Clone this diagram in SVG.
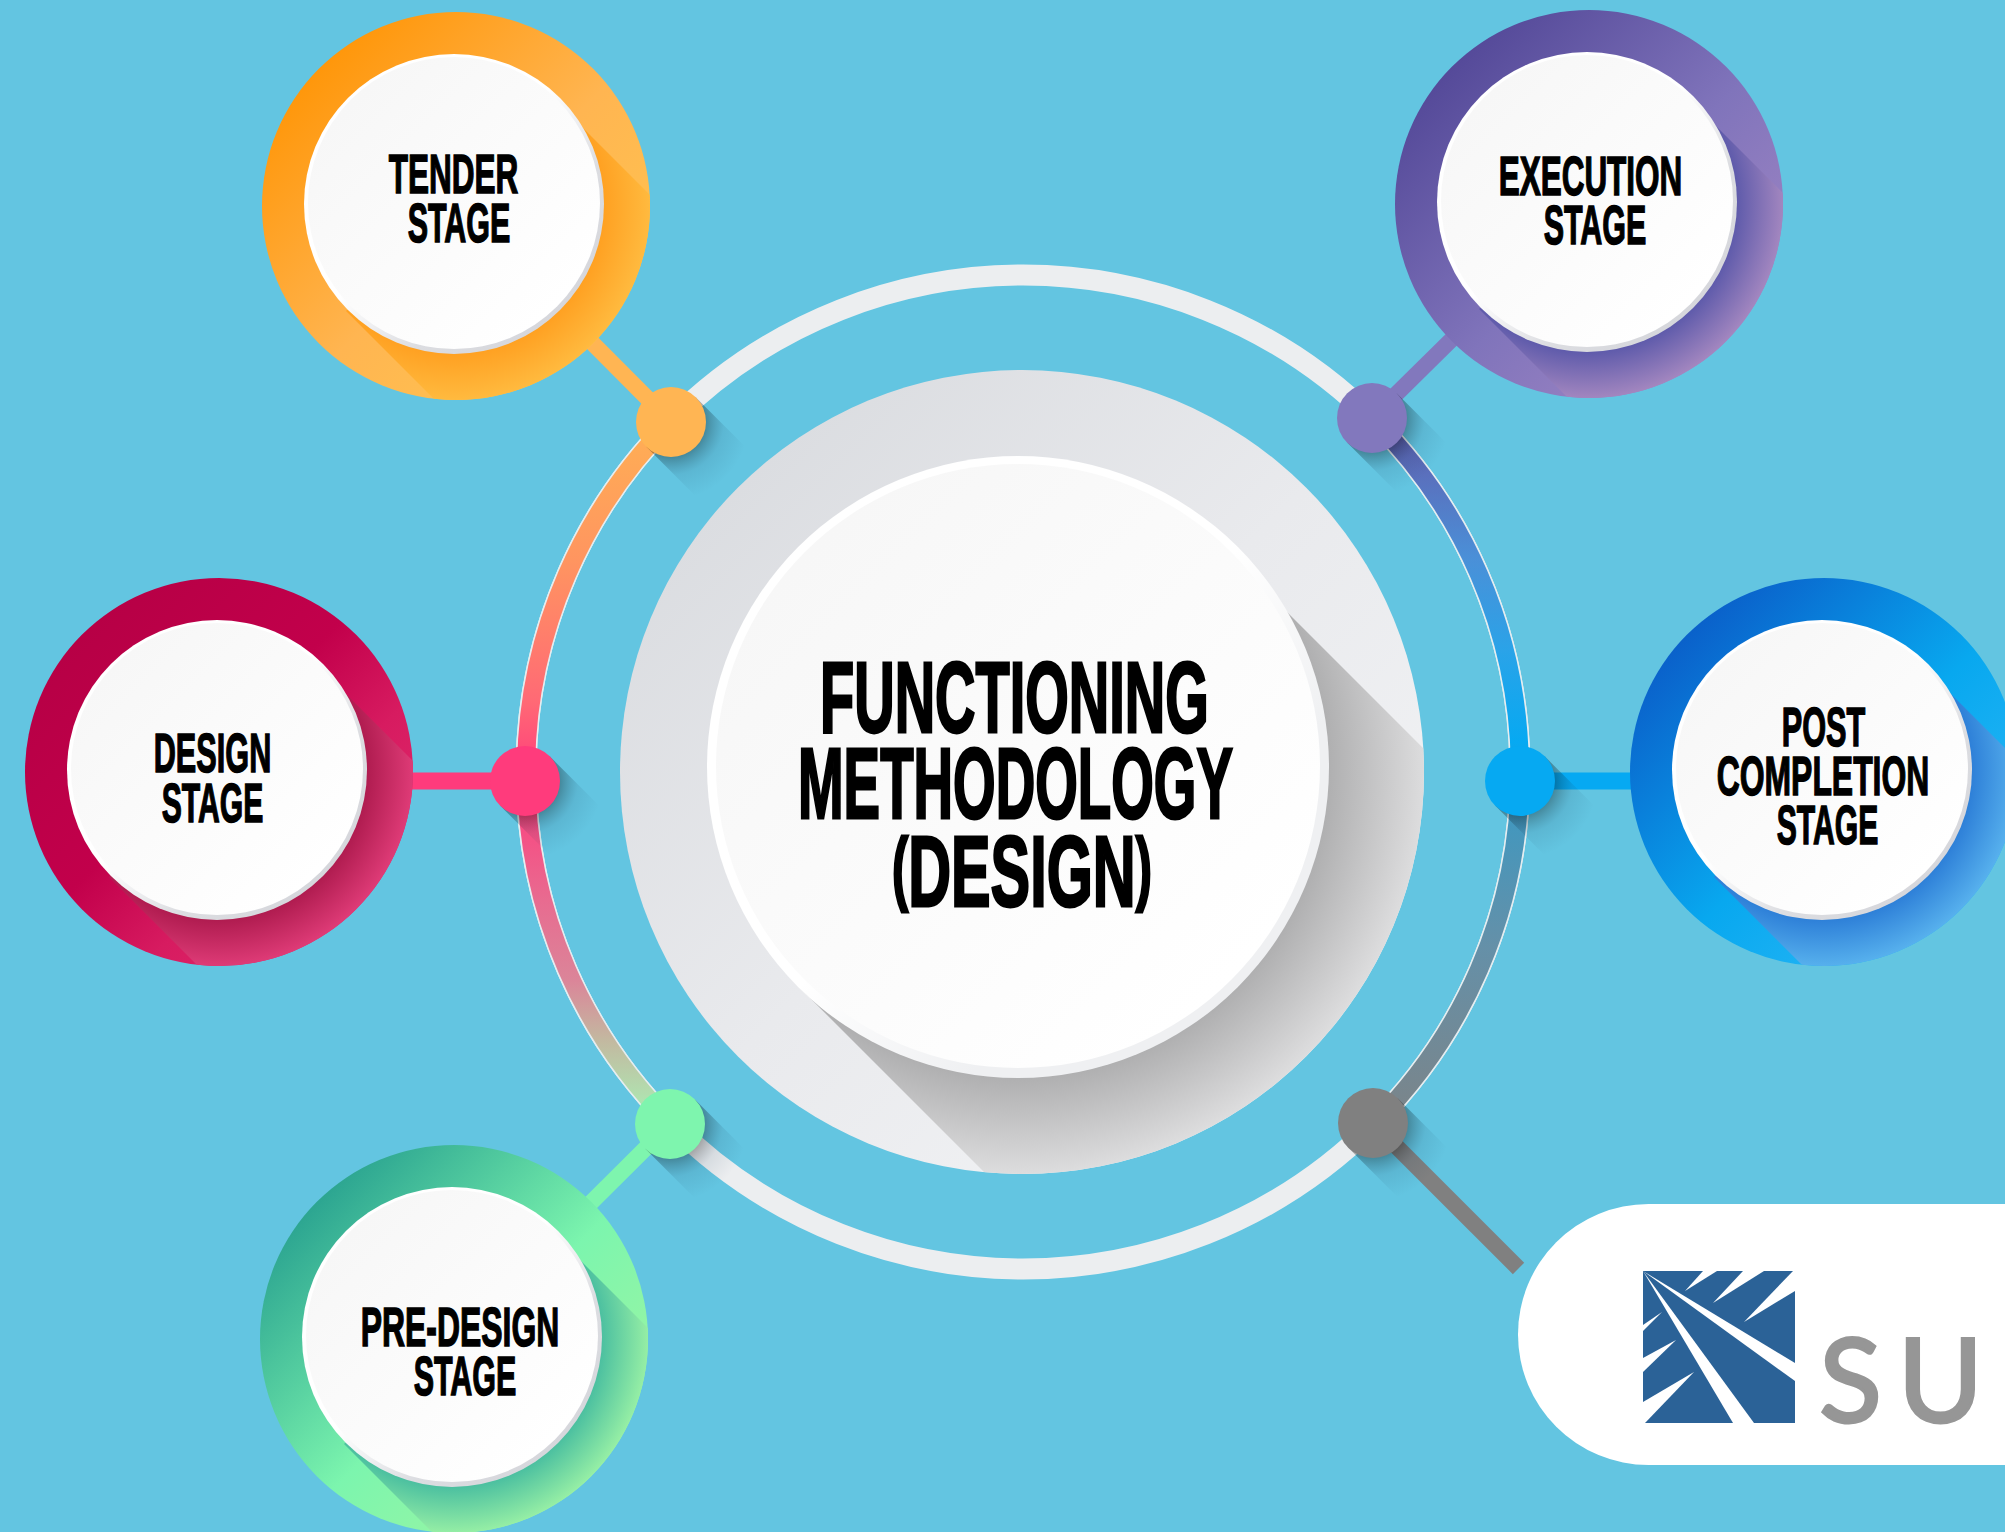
<svg xmlns="http://www.w3.org/2000/svg" xmlns:xlink="http://www.w3.org/1999/xlink" width="2005" height="1532" viewBox="0 0 2005 1532">
<style>
.lbl{font-family:"Liberation Sans Narrow","Liberation Sans",Arial,sans-serif;font-weight:700;font-size:56px;fill:#000;stroke:#000;stroke-width:1.5px;stroke-linejoin:miter}
.main{font-size:100px;stroke-width:2.8px}
.edge{fill:none;stroke:#e4edf0;stroke-width:21}
.band{fill:none;stroke-width:18}
.conn{fill:none;stroke-width:16}
.rim{fill:url(#rimG)}
.face{fill:url(#faceG)}
</style>
<defs>
<clipPath id="outer"><circle r="194"/></clipPath>
<clipPath id="mainClip"><circle r="402"/></clipPath>
<linearGradient id="rimG" x1=".15" y1=".15" x2=".85" y2=".85"><stop offset=".45" stop-color="#fff"/><stop offset=".75" stop-color="#dcdde1"/><stop offset="1" stop-color="#d6d7dc"/></linearGradient>
<linearGradient id="faceG" x1=".15" y1=".15" x2=".85" y2=".85"><stop offset="0" stop-color="#f7f7f7"/><stop offset="1" stop-color="#fff"/></linearGradient>
<linearGradient id="tenderG" x1=".12" y1=".12" x2=".88" y2=".88"><stop offset="0" stop-color="#ff9506"/><stop offset=".55" stop-color="#ffb551"/><stop offset="1" stop-color="#ffc44f"/></linearGradient>
<linearGradient id="execG" x1=".12" y1=".12" x2=".88" y2=".88"><stop offset="0" stop-color="#524797"/><stop offset=".55" stop-color="#8074bb"/><stop offset="1" stop-color="#a086c4"/></linearGradient>
<linearGradient id="designG" x1=".12" y1=".12" x2=".88" y2=".88"><stop offset="0" stop-color="#b60045"/><stop offset=".45" stop-color="#c2004b"/><stop offset=".7" stop-color="#d71b60"/><stop offset="1" stop-color="#e02a6c"/></linearGradient>
<linearGradient id="postG" x1=".12" y1=".12" x2=".88" y2=".88"><stop offset="0" stop-color="#0a5cc8"/><stop offset=".55" stop-color="#08a8ef"/><stop offset="1" stop-color="#2cb8f6"/></linearGradient>
<linearGradient id="preG" x1=".12" y1=".12" x2=".88" y2=".88"><stop offset="0" stop-color="#27a08f"/><stop offset=".55" stop-color="#7cf5ae"/><stop offset="1" stop-color="#a0f5a0"/></linearGradient>
<radialGradient id="tenderS" gradientUnits="userSpaceOnUse" cx="-2" cy="-2" r="198"><stop offset=".757" stop-color="#ffa122"/><stop offset="1" stop-color="#ffbb40"/></radialGradient>
<radialGradient id="execS" gradientUnits="userSpaceOnUse" cx="-2" cy="-2" r="198"><stop offset=".757" stop-color="#5f5bab"/><stop offset="1" stop-color="#a588c0"/></radialGradient>
<radialGradient id="designS" gradientUnits="userSpaceOnUse" cx="-2" cy="-2" r="198"><stop offset=".757" stop-color="#b01c50"/><stop offset="1" stop-color="#e03c78"/></radialGradient>
<radialGradient id="postS" gradientUnits="userSpaceOnUse" cx="-2" cy="-2" r="198"><stop offset=".757" stop-color="#2e80d8"/><stop offset="1" stop-color="#58b2ee"/></radialGradient>
<radialGradient id="preS" gradientUnits="userSpaceOnUse" cx="-2" cy="-2" r="198"><stop offset=".757" stop-color="#4cc0a0"/><stop offset="1" stop-color="#98f0a5"/></radialGradient>
<radialGradient id="dotS" gradientUnits="userSpaceOnUse" cx="0" cy="0" r="78"><stop offset=".45" stop-color="#000" stop-opacity=".3"/><stop offset=".68" stop-color="#1a3a55" stop-opacity=".1"/><stop offset="1" stop-color="#1a3a55" stop-opacity="0"/></radialGradient>
<linearGradient id="mainG" x1=".12" y1=".12" x2=".88" y2=".88"><stop offset="0" stop-color="#dadce0"/><stop offset=".5" stop-color="#e9eaed"/><stop offset="1" stop-color="#f2f3f5"/></linearGradient>
<radialGradient id="mainS" gradientUnits="userSpaceOnUse" cx="-4" cy="-5" r="410"><stop offset=".76" stop-color="#b0b0b1"/><stop offset="1" stop-color="#dededf"/></radialGradient>
<linearGradient id="mainRim" x1=".15" y1=".15" x2=".85" y2=".85"><stop offset=".5" stop-color="#fff"/><stop offset=".8" stop-color="#eff0f2"/></linearGradient>
<linearGradient id="leftArc" gradientUnits="userSpaceOnUse" x1="0" y1="422" x2="0" y2="1124">
<stop offset="0" stop-color="#ffb054"/><stop offset=".197" stop-color="#ff9560"/><stop offset=".396" stop-color="#ff6a75"/><stop offset=".51" stop-color="#ff3b7c"/><stop offset=".681" stop-color="#e86b90"/><stop offset=".795" stop-color="#db8599"/><stop offset=".88" stop-color="#c3b8a0"/><stop offset=".966" stop-color="#b0e2b0"/><stop offset="1" stop-color="#80f7ae"/></linearGradient>
<linearGradient id="rightArc" gradientUnits="userSpaceOnUse" x1="0" y1="418" x2="0" y2="1124">
<stop offset="0" stop-color="#5a55a5"/><stop offset=".08" stop-color="#5a70bd"/><stop offset=".2" stop-color="#4a90d8"/><stop offset=".33" stop-color="#2aa3e8"/><stop offset=".46" stop-color="#06a9f2"/><stop offset=".55" stop-color="#3f98c0"/><stop offset=".75" stop-color="#6590a8"/><stop offset="1" stop-color="#7c8488"/></linearGradient>
<g id="dotShadow"><polygon points="24.7,-24.7 84.7,35.3 35.3,84.7 -24.7,24.7" fill="url(#dotS)"/></g>
<g id="nodeBase"><polygon points="100,-105 400,195 190,405 -110,105" clip-path="url(#outer)"/></g>
</defs>
<rect width="2005" height="1532" fill="#63c5e1"/>
<g id="connectors">
<circle cx="1023" cy="772" r="497" fill="none" stroke="#eceef0" stroke-width="21"/>
<path class="edge" d="M671.6 420.6A497 497 0 0 0 671.6 1123.4"/>
<path class="edge" d="M1374.4 420.6A497 497 0 0 1 1374.4 1123.4"/>
<path class="band" stroke="url(#leftArc)" d="M671.6 420.6A497 497 0 0 0 671.6 1123.4"/>
<path class="band" stroke="url(#rightArc)" d="M1374.4 420.6A497 497 0 0 1 1374.4 1123.4"/>
<line class="conn" x1="456" y1="206" x2="671" y2="422" stroke="#ffb553"/>
<line class="conn" x1="1589" y1="204" x2="1372" y2="418" stroke="#8278bd"/>
<line class="conn" x1="454" y1="1339" x2="670" y2="1124" stroke="#7ef5ae"/>
<line class="conn" x1="219" y1="781" x2="525" y2="781" stroke="#ff3b7c" style="stroke-width:17"/>
<line class="conn" x1="1824" y1="781" x2="1520" y2="781" stroke="#06a9f2" style="stroke-width:17"/>
<line class="conn" x1="1373" y1="1123" x2="1518.5" y2="1268.5" stroke="#808080"/>
<use href="#dotShadow" x="671" y="422"/>
<use href="#dotShadow" x="1372" y="418"/>
<use href="#dotShadow" x="525" y="781"/>
<use href="#dotShadow" x="1520" y="781"/>
<use href="#dotShadow" x="670" y="1124"/>
<use href="#dotShadow" x="1373" y="1123"/>
<circle cx="671" cy="422" r="35" fill="#ffb553"/>
<circle cx="1372" cy="418" r="35" fill="#8278bd"/>
<circle cx="525" cy="781" r="35" fill="#ff3b7c"/>
<circle cx="1520" cy="781" r="35" fill="#06a9f2"/>
<circle cx="670" cy="1124" r="35" fill="#7ef5ae"/>
<circle cx="1373" cy="1123" r="35" fill="#808080"/>
</g>
<g id="node-tender">
<g transform="translate(456 206)"><circle r="194" fill="url(#tenderG)"/><use href="#nodeBase" fill="url(#tenderS)"/><circle class="rim" cx="-2" cy="-2" r="150"/><circle class="face" cx="-2" cy="-3" r="146"/></g>
<text class="lbl" transform="translate(388.7 192.5) scale(.675 1)" textLength="192" lengthAdjust="spacingAndGlyphs">TENDER</text>
<text class="lbl" transform="translate(407.7 241.5) scale(.675 1)" textLength="152" lengthAdjust="spacingAndGlyphs">STAGE</text>
</g>
<g id="node-execution">
<g transform="translate(1589 204)"><circle r="194" fill="url(#execG)"/><use href="#nodeBase" fill="url(#execS)"/><circle class="rim" cx="-2" cy="-2" r="150"/><circle class="face" cx="-2" cy="-3" r="146"/></g>
<text class="lbl" transform="translate(1498.7 194.5) scale(.675 1)" textLength="272" lengthAdjust="spacingAndGlyphs">EXECUTION</text>
<text class="lbl" transform="translate(1543.7 243.5) scale(.675 1)" textLength="152" lengthAdjust="spacingAndGlyphs">STAGE</text>
</g>
<g id="node-design">
<g transform="translate(219 772)"><circle r="194" fill="url(#designG)"/><use href="#nodeBase" fill="url(#designS)"/><circle class="rim" cx="-2" cy="-2" r="150"/><circle class="face" cx="-2" cy="-3" r="146"/></g>
<text class="lbl" transform="translate(153.7 771.5) scale(.675 1)" textLength="174.2" lengthAdjust="spacingAndGlyphs">DESIGN</text>
<text class="lbl" transform="translate(161.7 821.5) scale(.675 1)" textLength="150.5" lengthAdjust="spacingAndGlyphs">STAGE</text>
</g>
<g id="node-post-completion">
<g transform="translate(1824 772)"><circle r="194" fill="url(#postG)"/><use href="#nodeBase" fill="url(#postS)"/><circle class="rim" cx="-2" cy="-2" r="150"/><circle class="face" cx="-2" cy="-3" r="146"/></g>
<text class="lbl" transform="translate(1781.7 745.5) scale(.675 1)" textLength="123.9" lengthAdjust="spacingAndGlyphs">POST</text>
<text class="lbl" transform="translate(1716.7 794.5) scale(.675 1)" textLength="315" lengthAdjust="spacingAndGlyphs">COMPLETION</text>
<text class="lbl" transform="translate(1776.7 843.5) scale(.675 1)" textLength="150.5" lengthAdjust="spacingAndGlyphs">STAGE</text>
</g>
<g id="node-pre-design">
<g transform="translate(454 1339)"><circle r="194" fill="url(#preG)"/><use href="#nodeBase" fill="url(#preS)"/><circle class="rim" cx="-2" cy="-2" r="150"/><circle class="face" cx="-2" cy="-3" r="146"/></g>
<text class="lbl" transform="translate(360.7 1345.5) scale(.675 1)" textLength="294.2" lengthAdjust="spacingAndGlyphs">PRE-DESIGN</text>
<text class="lbl" transform="translate(413.7 1394.5) scale(.675 1)" textLength="152" lengthAdjust="spacingAndGlyphs">STAGE</text>
</g>
<g id="node-center">
<g transform="translate(1022 772)"><circle r="402" fill="url(#mainG)"/>
<polygon clip-path="url(#mainClip)" points="200,-225 800,375 378,816 -222,216" fill="url(#mainS)"/>
<circle cx="-4" cy="-5" r="311" fill="url(#mainRim)"/><circle class="face" cx="-4" cy="-6" r="302"/></g>
<text class="lbl main" transform="translate(820 732) scale(.675 1)" textLength="576" lengthAdjust="spacingAndGlyphs">FUNCTIONING</text>
<text class="lbl main" transform="translate(798 818) scale(.675 1)" textLength="644.4" lengthAdjust="spacingAndGlyphs">METHODOLOGY</text>
<text class="lbl main" transform="translate(892 906) scale(.675 1)" textLength="385" lengthAdjust="spacingAndGlyphs"><tspan font-size="82" dy="-11">(</tspan><tspan dy="11">DESIGN</tspan><tspan font-size="82" dy="-11">)</tspan></text>
</g>
<g id="node-logo">
<rect x="1518" y="1204" width="620" height="261" rx="130.5" fill="#fff"/>
<g transform="translate(1643 1271)">
<rect width="152" height="152" fill="#2b6297"/>
<g fill="#fff">
<polygon points="0,0 152,92 152,110"/>
<polygon points="0,0 90,152 111,152"/>
<polygon points="42,20 60,0 74,0"/>
<polygon points="70,32 100,0 121,0"/>
<polygon points="101,51 150,0 152,0 152,20"/>
<polygon points="19,41 0,54 0,60"/>
<polygon points="33,69 0,87 0,101"/>
<polygon points="51,101 0,131 0,152 2,152"/>
</g>
</g>
<text x="1819" y="1422" font-family="Lato,'Open Sans',sans-serif" font-size="116" fill="#969696" stroke="#969696" stroke-width="3" textLength="164" lengthAdjust="spacing">SU</text>
</g>
</svg>
